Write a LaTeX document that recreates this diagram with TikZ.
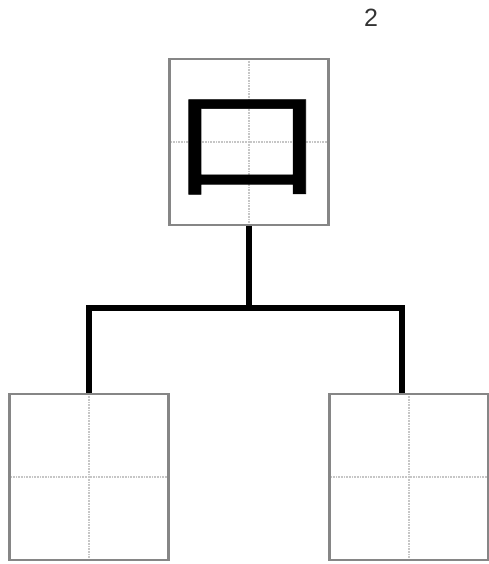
\documentclass[tikz,border=0pt]{standalone}
\usepackage{fontspec}
\setmainfont{Liberation Sans}
\newfontfamily\cjk[FakeBold=0.5]{Noto Sans CJK SC}
\tikzset{
  gridbox/.style={draw=gray!95,line width=2.8pt,minimum width=159pt,minimum height=166pt,inner sep=0pt,
    path picture={\draw[gray!45,line width=1.2pt,dash pattern=on 0.8pt off 0.8pt]
      (path picture bounding box.north) -- (path picture bounding box.south)
      (path picture bounding box.west) -- (path picture bounding box.east);}},
  link/.style={line width=5.5pt}
}
\begin{document}
\begin{tikzpicture}[x=1pt,y=-1pt]
                \useasboundingbox (0,0) rectangle (488,564);
                \node[gridbox] (top) at (249,142) {};
                \node[gridbox] (left) at (89,477) {};
                \node[gridbox] (right) at (409,477) {};
                \node[xscale=1.3,transform shape] (char) at (247,147) {\fontsize{120}{120}\selectfont\cjk 口};
                \node[text=black!80] (num) at (371,18) {\fontsize{25}{25}\selectfont 2};
                \coordinate (J) at (249,308);
                \draw[link] (top.south) -- (J);
                \draw[link] (left.north) |- (J) -| ([xshift=-7pt]right.north);
            \end{tikzpicture}
\end{document}
